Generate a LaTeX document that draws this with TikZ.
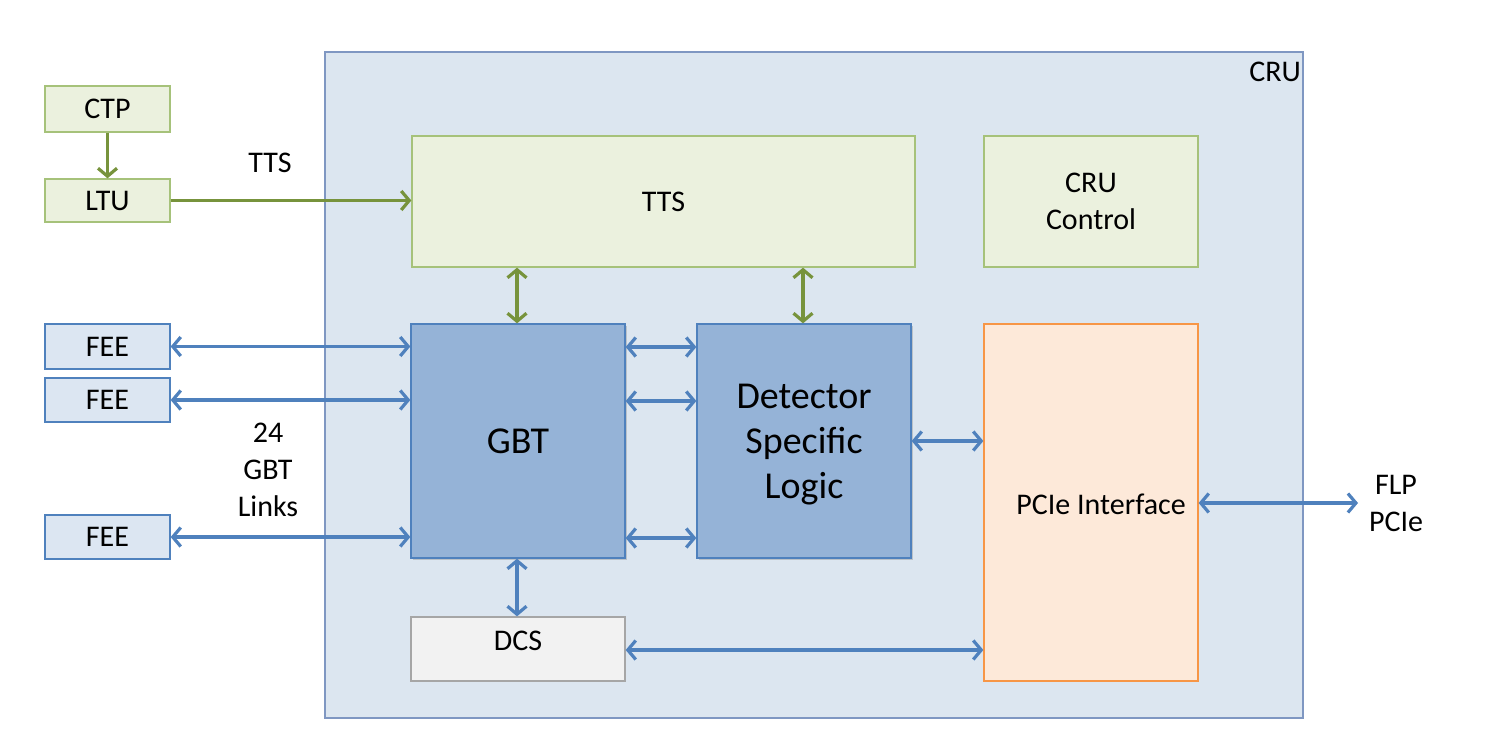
\documentclass[tikz,border=0pt]{standalone}
\usepackage{fontspec}
\setmainfont{Carlito}
\usetikzlibrary{arrows.meta,shadows}
\definecolor{crufill}{HTML}{DCE6F0}
\definecolor{cruline}{HTML}{7F97C2}
\definecolor{gfill}{HTML}{EBF1DE}
\definecolor{gline}{HTML}{A6C27A}
\definecolor{garrow}{HTML}{77933C}
\definecolor{bfill}{HTML}{95B3D7}
\definecolor{bline}{HTML}{4F81BD}
\definecolor{barrow}{HTML}{4F81BD}
\definecolor{ofill}{HTML}{FDE9D9}
\definecolor{oline}{HTML}{F79646}
\definecolor{feefill}{HTML}{DCE6F2}
\definecolor{dcsfill}{HTML}{F2F2F2}
\definecolor{dcsline}{HTML}{A6A6A6}
\tikzset{
  box/.style={draw, line width=1.3pt, inner sep=0pt, align=center, font=\fontsize{30}{37}\selectfont},
  greenbox/.style={box, fill=gfill, draw=gline},
  feebox/.style={box, fill=feefill, draw=bline, minimum width=125pt},
  bluebox/.style={box, fill=bfill, draw=bline, minimum width=214pt, minimum height=234pt,
     drop shadow={shadow xshift=1.5pt, shadow yshift=-2pt, opacity=0.35}},
  lbl/.style={inner sep=0pt, align=center, font=\fontsize{30}{37}\selectfont},
  tip/.tip={Straight Barb[length=8pt,width=19pt]},
  barr/.style={draw=barrow, line width=3.2pt, tip-tip},
  garr/.style={draw=garrow, line width=3.2pt, -tip},
  garrb/.style={draw=garrow, line width=3.2pt, tip-tip},
}
\begin{document}
\begin{tikzpicture}[x=1pt,y=-1pt]
\useasboundingbox (0,0) rectangle (1490,744);
% CRU outer
\node[draw=cruline, fill=crufill, line width=1.3pt, minimum width=978pt, minimum height=666pt, inner sep=0pt] (cru) at (814,385) {};
\node[lbl, anchor=north east] (crulbl) at (1301,62) {CRU};
% left boxes
\node[greenbox, minimum width=125pt, minimum height=46pt] (ctp) at (107.5,109) {CTP};
\node[greenbox, minimum width=125pt, minimum height=43pt] (ltu) at (107.5,200.5) {LTU};
\node[feebox, minimum height=45pt] (fee1) at (107.5,346.5) {FEE};
\node[feebox, minimum height=44pt] (fee2) at (107.5,400) {FEE};
\node[feebox, minimum height=44pt] (fee3) at (107.5,537) {FEE};
% inner boxes
\node[greenbox, minimum width=503pt, minimum height=131pt] (tts) at (663.5,201.5) {TTS};
\node[greenbox, minimum width=214pt, minimum height=131pt] (ctrl) at (1091,201.5) {CRU\\Control};
\node[bluebox, font=\fontsize{38}{45}\selectfont] (gbt) at (518,441) {GBT};
\node[bluebox, font=\fontsize{38}{45}\selectfont, text depth=0pt] (dsl) at (804,441) {};
\node[lbl, font=\fontsize{38}{45}\selectfont] (dsllbl) at (804,445) {Detector\\Specific\\Logic};
\node[box, fill=ofill, draw=oline, minimum width=214pt, minimum height=357pt] (pcie) at (1091,502.5) {};
\node[lbl] (pcielbl) at (1101,504) {PCIe Interface};
\node[box, fill=dcsfill, draw=dcsline, minimum width=214pt, minimum height=64pt] (dcs) at (518,649) {};
\node[lbl] (dcslbl) at (518,641) {DCS};
% labels outside
\node[lbl] (ttslbl) at (270,163) {TTS};
\node[lbl] (links) at (268,470) {24\\GBT\\Links};
\node[lbl] (flp) at (1396,503) {FLP\\PCIe};
\coordinate (flpend) at (1358,503);
% arrows green
\draw[garr] (ctp) -- (ltu);
\draw[garr] (ltu.east) -- (tts.west |- ltu.east);
\draw[garrb] (tts.south -| 517,0) -- (gbt.north -| 517,0);
\draw[garrb] (tts.south -| 803,0) -- (dsl.north -| 803,0);
% arrows blue
\draw[barr] (fee1.east) -- (gbt.west |- fee1.east);
\draw[barr] (fee2.east) -- (gbt.west |- fee2.east);
\draw[barr] (fee3.east) -- (gbt.west |- fee3.east);
\draw[barr] (gbt.east |- 0,347) -- (dsl.west |- 0,347);
\draw[barr] (gbt.east |- 0,401) -- (dsl.west |- 0,401);
\draw[barr] (gbt.east |- 0,538) -- (dsl.west |- 0,538);
\draw[barr] (dsl.east |- 0,441) -- (pcie.west |- 0,441);
\draw[barr] (gbt.south -| 517,0) -- (dcs.north -| 517,0);
\draw[barr] (dcs.east |- 0,650) -- (pcie.west |- 0,650);
\draw[barr] (pcie.east |- flpend) -- (flpend);
\end{tikzpicture}
\end{document}
